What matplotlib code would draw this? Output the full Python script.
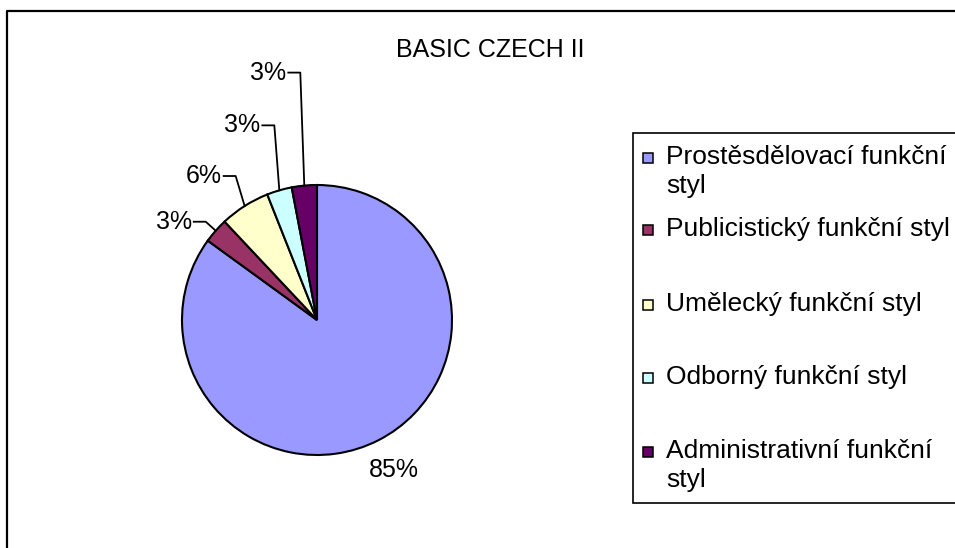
import numpy as np
import matplotlib.pyplot as plt
from matplotlib.patches import Rectangle

plt.rcParams['font.family'] = ['Liberation Sans', 'DejaVu Sans']

W, H = 955, 548

title = "BASIC CZECH II"
categories = ["Prostěsdělovací funkční\nstyl", "Publicistický funkční styl",
              "Umělecký funkční styl", "Odborný funkční styl",
              "Administrativní funkční\nstyl"]
values = [85, 3, 6, 3, 3]
colors = ['#9999FF', '#993366', '#FFFFCC', '#CCFFFF', '#660066']

# layout (pixels, image coords: y grows downwards)
pie_center = (317, 320)
pie_radius = 135
# leader offsets for the small slices: (dx, dy) from slice edge to tick end
leader_off = {1: (-10, -9), 2: (-9, -30), 3: (-5, -65), 4: (-4, -113)}
legend_rows = [158, 230, 305, 378, 452]


def iy(y):
    return H - y


fig = plt.figure(figsize=(W / 100, H / 100), dpi=100)
ax = fig.add_axes([0, 0, 1, 1])

wedges, _ = ax.pie(values, colors=colors, startangle=90, counterclock=False,
                   center=(pie_center[0], iy(pie_center[1])), radius=pie_radius,
                   frame=True, wedgeprops=dict(edgecolor='black', linewidth=1.5))
ax.set_xlim(0, W)
ax.set_ylim(0, H)
ax.set_aspect('equal')
ax.axis('off')

total = sum(values)
cx, cy = pie_center[0], iy(pie_center[1])
for i, w in enumerate(wedges):
    mid = np.deg2rad((w.theta1 + w.theta2) / 2)
    pct = '%d%%' % round(100 * values[i] / total)
    if i in leader_off:
        ex = cx + pie_radius * np.cos(mid)
        ey = cy + pie_radius * np.sin(mid)
        dx, dy = leader_off[i]
        tx, ty = ex + dx, ey - dy
        ax.plot([ex, tx, tx - 12], [ey, ty, ty], color='black', lw=1.3)
        ax.text(tx - 14, ty, pct, ha='right', va='center', fontsize=18)
    else:
        d = pie_radius * 1.25
        ax.text(cx + d * np.cos(mid), cy + d * np.sin(mid), pct,
                ha='center', va='center', fontsize=18)

# outer frame
ax.plot([6.5, 6.5, W + 5], [0, iy(10.5), iy(10.5)], color='black', lw=1.6)

ax.text(490, iy(50), title, ha='center', va='center', fontsize=18)

# legend
ax.add_patch(Rectangle((633, iy(503)), 340, 370, facecolor='white',
                       edgecolor='black', lw=1.2))
for i, lab in enumerate(categories):
    y = legend_rows[i]
    ax.add_patch(Rectangle((642.5, iy(y) - 5), 10, 10, facecolor=colors[i],
                           edgecolor='black', lw=1.1))
    ax.text(666, iy(y) + 13, lab, ha='left', va='top', fontsize=19,
            linespacing=1.25)

plt.savefig("out.png", dpi=100)
